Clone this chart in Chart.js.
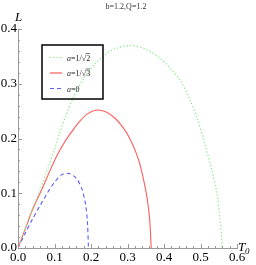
<!DOCTYPE html>
<html>
<head>
<meta charset="utf-8">
<script src="https://cdn.jsdelivr.net/npm/chart.js@4/dist/chart.umd.min.js"></script>
<style>
  html, body { margin: 0; padding: 0; background: #fff; }
  #wrap { width: 256px; height: 265px; }
</style>
</head>
<body>
<div id="wrap"><canvas id="c" width="256" height="265"></canvas></div>
<script>
// values
const greenT = [0, 0.02, 0.041, 0.06, 0.08, 0.1, 0.115, 0.13, 0.151, 0.18, 0.21, 0.24, 0.27, 0.31, 0.35, 0.39, 0.42, 0.444, 0.47, 0.49, 0.51, 0.53, 0.545, 0.553, 0.558, 0.559];
const greenL = [0, 0.035, 0.072, 0.105, 0.142, 0.18, 0.212, 0.24, 0.274, 0.31, 0.336, 0.354, 0.365, 0.37, 0.363, 0.346, 0.326, 0.307, 0.272, 0.239, 0.195, 0.145, 0.1, 0.055, 0.02, 0];

const redT = [0, 0.02, 0.041, 0.068, 0.09, 0.11, 0.13, 0.148, 0.17, 0.19, 0.215, 0.24, 0.266, 0.29, 0.31, 0.33, 0.343, 0.354, 0.361, 0.365];
const redL = [0, 0.035, 0.072, 0.111, 0.145, 0.173, 0.196, 0.213, 0.232, 0.245, 0.252, 0.249, 0.237, 0.218, 0.195, 0.162, 0.128, 0.09, 0.05, 0];

const blueT = [0, 0.02, 0.04, 0.06, 0.08, 0.1, 0.12, 0.14, 0.16, 0.175, 0.185, 0.19, 0.193];
const blueL = [0, 0.027, 0.053, 0.077, 0.1, 0.12, 0.134, 0.136, 0.127, 0.108, 0.08, 0.05, 0];

const seriesNames = ['a=1/\u221A2', 'a=1/\u221A3', 'a=0'];
const xTicks = [0, 0.1, 0.2, 0.3, 0.4, 0.5, 0.6];
const yTicks = [0, 0.1, 0.2, 0.3, 0.4];
const chartTitle = 'b=1.2,Q=1.2';

const pts = (xs, ys) => xs.map((x, i) => ({ x: x, y: ys[i] }));

const serif = "'Liberation Serif', 'DejaVu Serif', serif";

// mathematica-like extras: inward ticks, axis names, title, legend box
const extras = {
    id: 'extras',
    afterDraw(chart) {
        const ctx = chart.ctx;
        const xs = chart.scales.x, ys = chart.scales.y;
        const x0 = xs.getPixelForValue(0), y0 = ys.getPixelForValue(0);
        ctx.save();
        ctx.strokeStyle = '#999';
        ctx.lineWidth = 1;
        for (let i = 1; i <= 30; i++) {
            const px = Math.round(xs.getPixelForValue(i * 0.02)) + 0.5;
            const len = i % 5 === 0 ? 4 : 2;
            ctx.beginPath(); ctx.moveTo(px, y0); ctx.lineTo(px, y0 - len); ctx.stroke();
        }
        for (let i = 1; i <= 20; i++) {
            const py = Math.round(ys.getPixelForValue(i * 0.02)) + 0.5;
            const len = i % 5 === 0 ? 4 : 2;
            ctx.beginPath(); ctx.moveTo(x0, py); ctx.lineTo(x0 + len, py); ctx.stroke();
        }

        // title
        ctx.fillStyle = '#333';
        ctx.font = '8px ' + serif;
        ctx.textAlign = 'center';
        ctx.textBaseline = 'middle';
        ctx.fillText(chartTitle, 126, 7);

        // axis names
        ctx.fillStyle = '#000';
        ctx.font = 'italic 13px ' + serif;
        ctx.textAlign = 'left';
        ctx.textBaseline = 'alphabetic';
        ctx.fillText('L', 15, 21);
        ctx.fillText('T', 238, 251);
        ctx.font = 'italic 9px ' + serif;
        ctx.fillText('0', 245, 254);

        // legend (no fill, curves stay visible through it)
        const bx = 42, by = 45, bw = 61, bh = 54;
        ctx.strokeStyle = '#000';
        ctx.lineWidth = 1.5;
        ctx.strokeRect(bx, by, bw, bh);
        chart.data.datasets.forEach((ds, i) => {
            const ly = by + 12.5 + i * 15.5;
            ctx.save();
            ctx.strokeStyle = ds.borderColor;
            ctx.lineWidth = 1.2;
            ctx.setLineDash(ds.borderDash || []);
            ctx.beginPath(); ctx.moveTo(bx + 8, ly); ctx.lineTo(bx + 20, ly); ctx.stroke();
            ctx.restore();
            const name = ds.label;
            ctx.fillStyle = '#222';
            ctx.textBaseline = 'middle';
            ctx.font = 'italic 8px ' + serif;
            let tx = bx + 25;
            ctx.fillText(name[0], tx, ly + 1);
            tx += ctx.measureText(name[0]).width;
            ctx.font = '8px ' + serif;
            const rest = name.slice(1);
            const sq = rest.indexOf('\u221A');
            ctx.fillText(rest, tx, ly + 1);
            if (sq >= 0) {
                const a = tx + ctx.measureText(rest.slice(0, sq + 1)).width;
                const b = tx + ctx.measureText(rest).width;
                ctx.strokeStyle = '#222';
                ctx.lineWidth = 0.6;
                ctx.beginPath(); ctx.moveTo(a - 0.5, ly - 4); ctx.lineTo(b, ly - 4); ctx.stroke();
            }
        });
        ctx.restore();
    }
};

new Chart(document.getElementById('c').getContext('2d'), {
    type: 'scatter',
    data: {
        datasets: [
            {
                label: seriesNames[0],
                data: pts(greenT, greenL),
                borderColor: '#7ee87e',
                borderDash: [1.2, 2.2],
                borderWidth: 1.2,
                showLine: true,
                tension: 0.3,
                pointRadius: 0
            },
            {
                label: seriesNames[1],
                data: pts(redT, redL),
                borderColor: '#ff5c5c',
                borderWidth: 1.1,
                showLine: true,
                tension: 0.3,
                pointRadius: 0
            },
            {
                label: seriesNames[2],
                data: pts(blueT, blueL),
                borderColor: '#5c5cff',
                borderDash: [4, 3],
                borderWidth: 1.1,
                showLine: true,
                tension: 0.3,
                pointRadius: 0
            }
        ]
    },
    options: {
        responsive: false,
        animation: false,
        layout: { padding: { top: 29, right: 19, left: 0, bottom: 0 } },
        plugins: {
            legend: { display: false },
            tooltip: { enabled: false },
            title: { display: false }
        },
        scales: {
            x: {
                type: 'linear',
                min: 0, max: 0.6,
                afterBuildTicks: (s) => { s.ticks = xTicks.map(v => ({ value: v })); },
                afterFit: (s) => { s.height = 17; },
                grid: { display: false, drawTicks: false },
                border: { color: '#999', width: 1 },
                ticks: {
                    padding: 2,
                    color: '#000',
                    font: { family: serif, size: 13 },
                    callback: (v) => v.toFixed(1)
                }
            },
            y: {
                type: 'linear',
                min: 0, max: 0.4,
                afterBuildTicks: (s) => { s.ticks = yTicks.map(v => ({ value: v })); },
                afterFit: (s) => { s.width = 18; },
                grid: { display: false, drawTicks: false },
                border: { color: '#999', width: 1 },
                ticks: {
                    padding: 1,
                    color: '#000',
                    font: { family: serif, size: 13 },
                    callback: (v) => v.toFixed(1)
                }
            }
        }
    },
    plugins: [extras]
});
</script>
</body>
</html>
